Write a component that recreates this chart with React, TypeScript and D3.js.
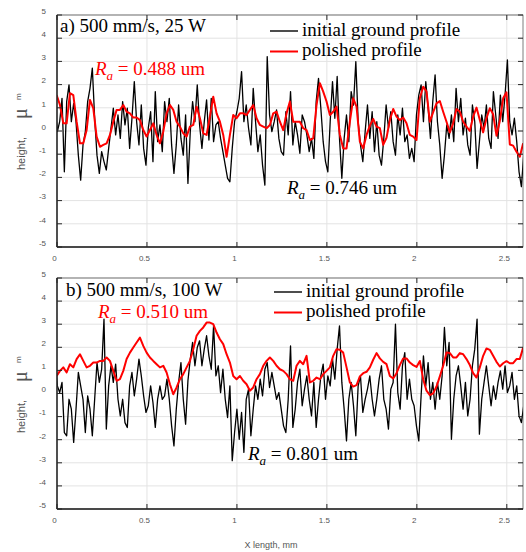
import React, { useEffect, useRef } from "react";
import * as d3 from "d3";

// axis ticks
const xTicks = [0, 0.5, 1, 1.5, 2, 2.5];
const yTicks = [-5, -4, -3, -2, -1, 0, 1, 2, 3, 4, 5];
const xMax = 2.59;

// sampling of the profiles (mm)
const groundStart = -0.011;
const groundStep = 0.01296;
const polishedStart = -0.002;
const polishedStep = 0.01852;

// a) 500 mm/s, 25 W  (heights in um)
const groundA = [
	1.12, -0.03, 0.4, 1.41, -1.76, 1.27, 1.99, 0.4, 1.19, 0.4, -1.04, -2.12, -0.6, -0.03, 1.27, 1.84, 2.71,
	0.55, -1.04, -1.83, -0.89, -1.32, -1.68, -0.75, 0.12, 0.98, -0.17, 0.69, -0.32, 1.27, 0.26, 0.98, -0.75,
	0.55, 2.13, 0.4, -0.6, 1.12, -0.75, -1.47, 0.12, 0.83, -1.32, 1.7, -0.46, 0.26, -0.89, 1.27, 0.4, 1.41,
	-0.6, -1.83, -0.6, 1.12, -0.32, -1.04, 0.69, -2.26, -0.03, 1.27, 0.4, 1.99, 0.26, -0.75, 0.4, 1.34, -0.39,
	1.41, -0.46, 0.26, 0.4, -0.32, -0.89, -1.47, -2.04, -2.19, -0.75, 0.4, 0.83, 1.41, 2.56, 0.4, 1.12, 0.12,
	-0.6, 1.84, 0.4, -0.89, -0.17, -1.47, -2.33, 3.21, 0.69, -0.03, 0.4, 0.91, -0.32, -0.89, -1.04, 0.83,
	-0.17,
	1.7, -0.6, 0.4, -0.17, -0.96, 0.69, 0.4, -0.17, -0.89, -0.32, -1.18, 1.27, 2.27, 0.98, -0.46, -1.32,
	-1.76, 0.4, 2.13, 0.55, 2.35, -0.32, -2.04, -0.32, 0.69, -0.46, 1.7, 1.12, 2.99, 0.4, -0.6, -1.32, -0.03,
	1.12, -0.32, 0.83, -0.89, 0.4, -1.04, -1.47, -0.32, 1.12, 0.12, 0.83, -0.46, -1.04, 0.69, -0.17, 0.98,
	-0.46, -0.17, -1.18, -0.75, -1.32, 0.69, 1.55, 1.99, 0.4, 2.13, 0.98, -0.32, 1.27, 2.42, 0.4, -0.6, -2.04,
	-1.04, 0.26, -0.32, 0.69, -0.46, 1.84, 0.4, 1.41, -0.17, 0.55, -0.6, -1.04, 1.12, 0.4, -1.61, -0.46, 0.69,
	0.12, 1.12, -0.32, -0.75, 1.7, 0.69, -0.32, 1.55, 0.4, 1.55, 3.06, 0.4, -0.17, 0.55, -0.46, -1.76, -2.4,
	-1.04
];
const polishedA = [
	1.55, 1.12, 0.33, 0.33, 1.63, 1.55, 0.4, -0.53, -0.53, 0.04, 1.34, 0.98, -0.24, -0.68, -0.6, -0.53,
	-0.17, 0.4, 0.91, 0.91, 1.12, 0.83, 0.76, 0.58, 0.58, 0.47, 0.04, -0.24, 0.04, 0.33, -0.17, -0.53, -0.03,
	0.76, 1.12, 0.91, 0.4, 0.19, -0.1, -0.24, 0.19, 0.26, 1.05, 0.55, -0.1, -0.17, 0.62, 1.48, 0.76, 0.4,
	-0.17, -1.11, -0.17, 0.69, 0.55, 0.76, 0.76, 0.69, 0.91, 1.12, 0.55, 0.26, 0.19, 0.12, 0.26, 0.76, 0.83,
	0.4, 0.04, 0.76, 1.27,
	0.4, 0.4, 0.4, 0.12, 0.04, -0.39, -0.32, 1.12, 2.06, 1.7, 1.27, 0.69, 0.83, 1.05, -0.17, -0.75, -0.75,
	0.4, 1.41, 1.05, -0.46, -0.75, -0.17, 0.23, 0.52, 0.19, 0.12, -0.6, -0.29, 0.47, 0.95, 0.62, 0.47, 0.58,
	0.33, -0.17, -0.24, -0.39, 1.41, 1.91, 1.7, 0.4, 0.81, 1.19, 1.29, 0.83, 0.4, -0.06, 0.33, 0.95, 0.83,
	0.4, 0.19, 0.0, 0.62, 1.01, 0.47, -0.06, 0.55, 0.98, 0.72, -0.2, 0.43, 1.41, 1.67, -0.58, -0.63, -0.89,
	-1.11, -0.53
];

// b) 500 mm/s, 100 W
const groundB = [
	1.49, 0.33, 0.04, 0.48, -1.69, -1.83, -0.25, -0.68, -2.12, -0.68, 0.91, 0.33, -0.25, -1.69, -0.1, -0.68,
	-1.83, -0.25, 1.34, 0.48, 1.05, 3.22, -1.54, 0.33, 1.2, 0.48, 1.27, -0.25, -0.97, -0.25, -1.26, -1.47,
	0.33, 0.91, -0.1, 0.62, 1.49, 0.76, -0.1, -0.82, -0.53, 0.33, -0.39, -1.47, -0.25, 0.33, -0.25, -0.1,
	0.62, -0.25, -1.4, -2.27, -0.68, 0.48, 1.34, -0.25, -1.33, 0.55, 1.49, 2.21, 1.2, 1.99, 2.28, 1.2, 1.92,
	2.5, 1.63, 1.05, 2.93, 0.76, 1.2, 0.04, 1.05, -0.25, -1.04, 0.33, -2.91, -1.69, -0.68, -1.98, -0.82,
	-2.55, -0.25, 0.19, -1.83, -0.68, 0.33, -0.25, 0.62, -0.1, 1.05, 1.34, 0.26, 0.91, 0.33, -0.25, 0.04,
	-0.68, -1.4, -1.69, -0.25,
	2.06, -1.47, -0.68, 0.48, 1.05, -0.53, 0.19, 0.76, -0.25, -0.97, 0.48, -1.47, -0.25, 0.76, 1.27, -0.25,
	0.76, 0.33, 1.49, 0.62, 1.92, 2.93, 0.48, -0.68, -2.05, -0.25, 0.48, -0.53, -1.83, 0.33, 0.76, -0.82,
	-0.25, 0.19, 0.76, -0.25, -0.97, -0.25, 0.62, 1.2, -0.25, -0.68, -1.54, 0.19, 0.48, 3.0, 0.04, -0.68,
	1.2, 1.77, -0.25, 0.62, -0.25, -0.53, -1.4, -2.05, -0.1, 1.63, 0.33, 1.34, -0.25, 0.48, -0.68, 0.48,
	-0.25, 0.76, 2.86, 1.2, 2.21, -1.98, -0.25, 0.76, 1.2, 0.33, -0.68, 0.48, -0.97, -0.25, 1.2, 1.92, 3.22,
	-1.76, -0.25, 0.48, 1.2, 0.33, -0.53, 0.33, -0.25, 0.48, 0.98, 0.19, 1.2, 0.04, 0.33, 0.91, -0.25, 0.33,
	-0.97, -1.26, -0.53
];
const polishedB = [
	0.76, 0.98, 1.13, 0.91, 1.27, 1.13, 1.49, 1.7, 1.41, 1.13, 1.2, 1.34, 1.34, 1.41, 1.41, 1.56, 1.41, 0.98,
	0.55, 0.62, 0.98, 1.49, 1.77, 1.99, 2.21, 2.42, 2.06, 1.77, 1.56, 1.41, 1.27, 1.13, 1.2, 0.91, 0.4, -0.03,
	0.26, 0.62, 0.84, 1.13, 1.41, 1.92, 2.5, 2.71, 2.86, 3.07, 3.07, 3.0, 2.64, 2.35, 2.14, 1.7, 1.34, 0.76,
	0.62, 0.76, 0.55, 0.4, 0.12, 0.26, 0.62, 0.84, 1.2, 1.41, 1.56, 1.41, 1.2, 1.05, 0.98, 0.84, 0.62,
	0.55, 1.2, 1.41, 1.27, 1.63, 0.48, 0.55, 0.69, 0.62, 0.84, 0.98, 1.13, 1.63, 1.92, 1.89, 1.77, 1.13,
	0.48, 0.3, 0.36, 0.74, 0.88, 0.94, 1.13, 1.46, 1.75, 1.52, 1.37, 1.27, 0.76, 0.65, 0.88, 1.23, 1.52,
	1.52, 1.34, 1.23, 1.15, 1.41, 0.62, 0.12, -0.07, 0.01, 0.3, 0.74, 1.2, 1.77, 1.75, 1.56, 1.56, 1.75,
	1.7, 1.49, 1.23, 0.88, 0.69, 1.13, 1.63, 1.95, 1.89, 1.63, 1.37, 1.17, 1.31, 1.4, 1.31, 1.31, 1.49, 1.49,
	1.99
];

const panels = [
	{ title: "a) 500 mm/s, 25 W", ground: groundA, polished: polishedA, raPolished: "0.488", raGround: "0.746" },
	{ title: "b) 500 mm/s, 100 W", ground: groundB, polished: polishedB, raPolished: "0.510", raGround: "0.801" }
];

// layout of each panel (pixels)
const layout = [
	{ top: 15, bottom: 247, titleX: 60, titleY: 32, raPX: 95, raPY: 75, raGX: 287, raGY: 194, legX: 270, legY: 31, labelY: 170 },
	{ top: 278, bottom: 509, titleX: 66, titleY: 296, raPX: 98, raPY: 318, raGX: 248, raGY: 460, legX: 274, legY: 292, labelY: 433 }
];

const LEFT = 57;
const RIGHT = 523;
const SANS = "Arial, 'Liberation Sans', sans-serif";
const SERIF = "'Times New Roman', 'Liberation Serif', serif";

function App() {
	const ref = useRef<SVGSVGElement>(null);

	useEffect(() => {
		const svg = d3.select(ref.current);
		svg.selectAll("*").remove();

		const x = d3.scaleLinear().domain([0, xMax]).range([LEFT, RIGHT]);

		panels.forEach((p, i) => {
			const L = layout[i];
			const y = d3.scaleLinear().domain([-5, 5]).range([L.bottom, L.top]);
			const g = svg.append("g");

			g.append("rect")
				.attr("x", LEFT)
				.attr("y", L.top)
				.attr("width", RIGHT - LEFT)
				.attr("height", L.bottom - L.top)
				.attr("fill", "#fff");

			// grid
			g.selectAll(".gx")
				.data(xTicks)
				.enter()
				.append("line")
				.attr("x1", (d) => x(d))
				.attr("x2", (d) => x(d))
				.attr("y1", L.top)
				.attr("y2", L.bottom)
				.attr("stroke", "#e3e3e3")
				.attr("stroke-width", 1);
			g.selectAll(".gy")
				.data(yTicks)
				.enter()
				.append("line")
				.attr("x1", LEFT)
				.attr("x2", RIGHT)
				.attr("y1", (d) => y(d))
				.attr("y2", (d) => y(d))
				.attr("stroke", "#e3e3e3")
				.attr("stroke-width", 1);

			// profiles
			const clipId = "clip" + i;
			g.append("clipPath")
				.attr("id", clipId)
				.append("rect")
				.attr("x", LEFT)
				.attr("y", L.top)
				.attr("width", RIGHT - LEFT)
				.attr("height", L.bottom - L.top);

			const groundLine = d3
				.line<number>()
				.x((d, k) => x(groundStart + k * groundStep))
				.y((d) => y(d));
			const polishedLine = d3
				.line<number>()
				.x((d, k) => x(polishedStart + k * polishedStep))
				.y((d) => y(d));

			const plot = g.append("g").attr("clip-path", "url(#" + clipId + ")");
			plot.append("path")
				.datum(p.ground)
				.attr("d", groundLine)
				.attr("fill", "none")
				.attr("stroke", "#000")
				.attr("stroke-width", 1.3)
				.attr("stroke-linejoin", "round");
			plot.append("path")
				.datum(p.polished)
				.attr("d", polishedLine)
				.attr("fill", "none")
				.attr("stroke", "#ff0000")
				.attr("stroke-width", 2)
				.attr("stroke-linejoin", "round");

			// box and inward ticks
			const axisColor = "#262626";
			g.append("rect")
				.attr("x", LEFT)
				.attr("y", L.top)
				.attr("width", RIGHT - LEFT)
				.attr("height", L.bottom - L.top)
				.attr("fill", "none")
				.attr("stroke", axisColor)
				.attr("stroke-width", 0.6);
			g.append("line")
				.attr("x1", LEFT).attr("x2", LEFT)
				.attr("y1", L.top).attr("y2", L.bottom)
				.attr("stroke", axisColor).attr("stroke-width", 1.4);
			g.append("line")
				.attr("x1", LEFT).attr("x2", RIGHT)
				.attr("y1", L.bottom).attr("y2", L.bottom)
				.attr("stroke", axisColor).attr("stroke-width", 1.4);

			yTicks.forEach((t) => {
				g.append("line")
					.attr("x1", LEFT).attr("x2", LEFT + 5)
					.attr("y1", y(t)).attr("y2", y(t))
					.attr("stroke", axisColor);
				g.append("line")
					.attr("x1", RIGHT).attr("x2", RIGHT - 5)
					.attr("y1", y(t)).attr("y2", y(t))
					.attr("stroke", axisColor);
				g.append("text")
					.attr("x", 46)
					.attr("y", y(t) - 4)
					.attr("dy", "0.35em")
					.attr("text-anchor", "end")
					.attr("font-family", SANS)
					.attr("font-size", 8)
					.attr("fill", "#555")
					.text(t);
			});
			xTicks.forEach((t) => {
				g.append("line")
					.attr("x1", x(t)).attr("x2", x(t))
					.attr("y1", L.bottom).attr("y2", L.bottom - 5)
					.attr("stroke", axisColor);
				g.append("line")
					.attr("x1", x(t)).attr("x2", x(t))
					.attr("y1", L.top).attr("y2", L.top + 5)
					.attr("stroke", axisColor);
				g.append("text")
					.attr("x", x(t) - 2.5)
					.attr("y", L.bottom + 14)
					.attr("text-anchor", "middle")
					.attr("font-family", SANS)
					.attr("font-size", 8)
					.attr("fill", "#555")
					.text(t);
			});

			// y label
			const lab = g.append("g").attr("fill", "#555");
			lab.append("text")
				.attr("transform", "translate(25," + L.labelY + ") rotate(-90)")
				.attr("font-family", SANS)
				.attr("font-size", 11)
				.text("height,");
			lab.append("text")
				.attr("transform", "translate(27," + (L.labelY - 51) + ") rotate(-90)")
				.attr("font-family", SERIF)
				.attr("font-size", 20)
				.text("μ");
			lab.append("text")
				.attr("transform", "translate(21," + (L.labelY - 70) + ") rotate(-90)")
				.attr("font-family", SANS)
				.attr("font-size", 8)
				.text("m");

			// title
			g.append("text")
				.attr("x", L.titleX)
				.attr("y", L.titleY)
				.attr("font-family", SERIF)
				.attr("font-size", 19)
				.attr("fill", "#000")
				.text(p.title);

			// Ra annotations
			const ra = (tx: number, ty: number, value: string, color: string) => {
				const t = g.append("text")
					.attr("x", tx)
					.attr("y", ty)
					.attr("font-family", SERIF)
					.attr("font-size", 19)
					.attr("fill", color);
				t.append("tspan").attr("font-style", "italic").text("R");
				t.append("tspan")
					.attr("font-style", "italic")
					.attr("font-size", 13)
					.attr("dy", 5)
					.text("a");
				t.append("tspan").attr("dy", -5).text(" = " + value + " um");
			};
			ra(L.raPX, L.raPY, p.raPolished, "#ff0000");
			ra(L.raGX, L.raGY, p.raGround, "#000");

			// legend
			const legend = [
				{ label: "initial ground profile", color: "#000", width: 1.4 },
				{ label: "polished profile", color: "#ff0000", width: 2 }
			];
			legend.forEach((e, k) => {
				const ly = L.legY + k * 20.5;
				g.append("line")
					.attr("x1", L.legX)
					.attr("x2", L.legX + 28)
					.attr("y1", ly)
					.attr("y2", ly)
					.attr("stroke", e.color)
					.attr("stroke-width", e.width);
				g.append("text")
					.attr("x", L.legX + 32)
					.attr("y", ly + 4.5)
					.attr("font-family", SERIF)
					.attr("font-size", 19)
					.attr("fill", "#000")
					.text(e.label);
			});
		});

		svg.append("text")
			.attr("x", 271)
			.attr("y", 548)
			.attr("text-anchor", "middle")
			.attr("font-family", SANS)
			.attr("font-size", 9)
			.attr("fill", "#555")
			.text("X length, mm");
	}, []);

	return (
		<svg
			ref={ref}
			width={526}
			height={552}
			style={{ position: "absolute", left: 0, top: 0, background: "#fff" }}
		/>
	);
}

export default App;
